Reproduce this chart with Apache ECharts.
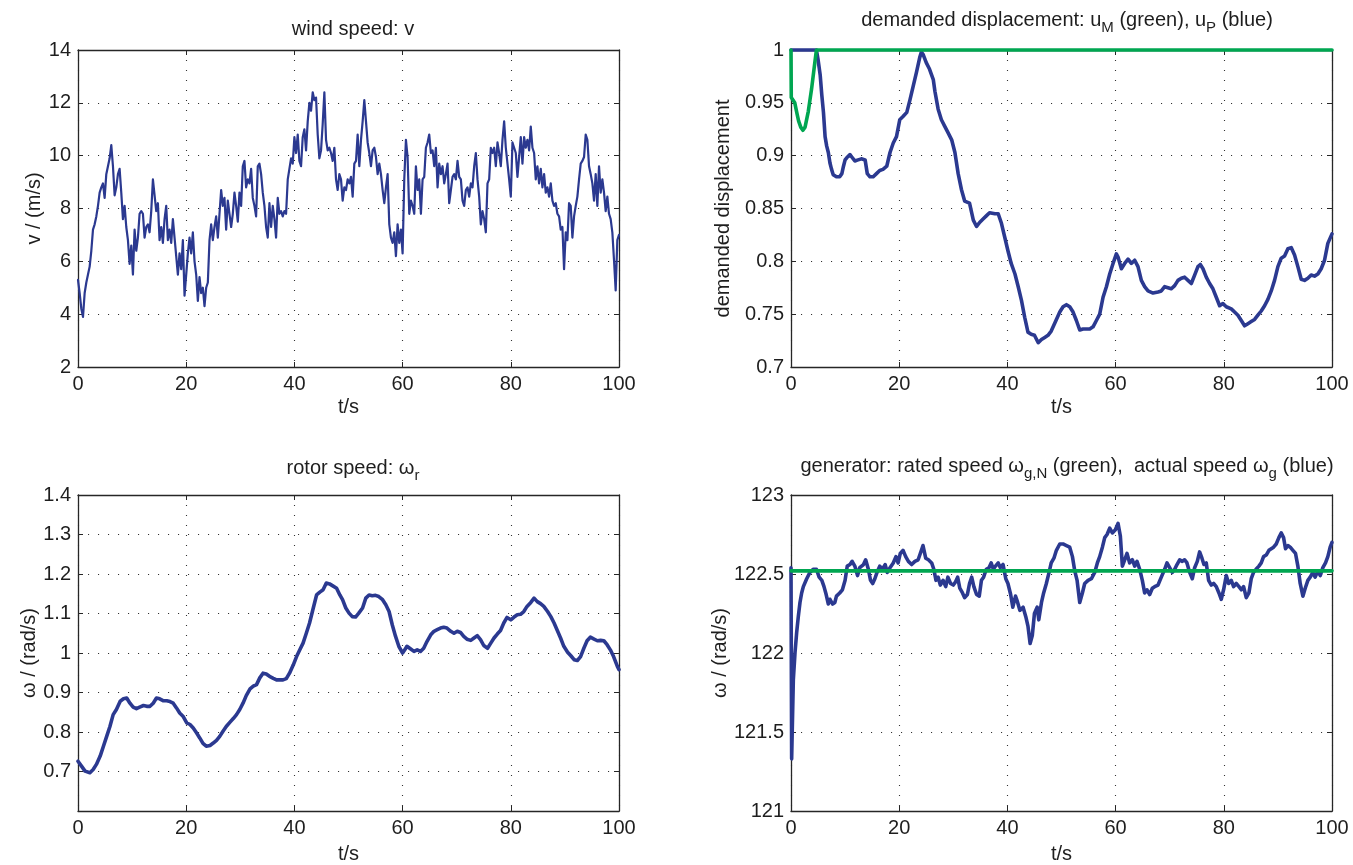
<!DOCTYPE html>
<html>
<head>
<meta charset="utf-8">
<script src="https://cdn.jsdelivr.net/npm/echarts@6.0.0/dist/echarts.min.js"></script>
<style>
  html, body { margin: 0; padding: 0; background: #ffffff; }
  #chart { width: 1353px; height: 865px; }
</style>
</head>
<body>
<div id="chart"></div>
<script>
// ---- wind speed v (m/s), sampled every WIND_DT seconds from t = 0 to 100 s ----
const WIND_DT = 100 / 325;
const windSpeed = [
  5.3, 4.8, 4.2, 3.9, 4.8, 5.2, 5.5, 5.8, 6.4, 7.2,
  7.4, 7.7, 8.1, 8.6, 8.8, 8.95, 8.4, 9.3, 9.6, 9.9,
  10.4, 9.6, 8.5, 8.8, 9.3, 9.5, 8.6, 7.6, 8.1, 7.3,
  6.8, 5.9, 6.6, 5.5, 7.2, 6.4, 6.9, 7.8, 7.9, 7.8,
  6.9, 7.3, 7.4, 7.1, 7.9, 9.1, 9.1, 7.9, 8.2, 6.8,
  7.3, 6.7, 7.6, 8.1, 6.8, 7.2, 6.7, 7.6, 6.9, 6.2,
  5.5, 6.3, 5.7, 6.8, 4.7, 5.5, 6.3, 6.9, 6.3, 7.1,
  6.0, 5.5, 4.5, 5.4, 4.8, 5.0, 4.3, 5.0, 5.2, 6.8,
  7.4, 6.8, 7.3, 7.7, 6.9, 7.8, 8.7, 8.1, 8.4, 7.2,
  8.3, 7.8, 7.3, 7.8, 8.6, 8.1, 7.5, 8.6, 8.1, 9.6,
  9.8, 8.8, 9.1, 8.95, 9.5, 8.4, 8.1, 7.7, 9.6, 9.7,
  9.3, 8.6, 8.1, 7.3, 6.9, 8.2, 7.3, 8.1, 7.6, 6.9,
  8.4, 7.8, 7.9, 7.7, 7.9, 7.8, 9.1, 9.5, 9.9, 9.7,
  10.7, 10.1, 10.8, 9.8, 9.6, 10.7, 11.0, 10.2, 11.3, 12.0,
  11.7, 12.4, 12.1, 12.2, 10.8, 9.9, 10.2, 11.2, 12.4, 10.6,
  10.2, 10.3, 10.1, 9.8, 10.3, 9.1, 8.7,
  9.3, 9.1, 8.3, 8.8, 8.7, 9.1, 8.95, 9.2, 8.45, 9.7,
  9.8, 10.8, 9.6, 10.6, 11.3, 12.1, 11.3, 10.5, 10.1, 9.6,
  10.2, 10.3, 9.95, 9.3, 9.7, 9.3, 8.7, 8.2, 8.8, 9.3,
  7.4, 6.9, 6.7, 7.1, 6.2, 7.4, 6.7, 7.2, 6.3, 9.1,
  10.6, 9.95, 7.8, 8.3, 8.1, 7.8, 9.6, 8.7, 9.1, 7.8,
  9.1, 9.2, 10.3, 10.5, 10.8, 10.1, 10.2, 9.6, 10.3, 8.8,
  9.7, 9.3, 9.6, 8.95, 9.3, 9.7, 8.2, 8.7, 9.2, 9.3,
  9.1, 9.8, 9.2, 9.1, 8.3, 8.1, 8.7, 8.8, 8.45, 8.95,
  8.8, 9.6, 10.1, 9.1, 8.45, 7.4, 7.9, 7.6, 7.1, 8.95,
  9.1, 10.3, 10.1, 10.3, 9.6, 10.5, 10.1, 9.6, 10.6, 11.3,
  10.3, 10.3, 9.1, 8.45, 10.5, 10.3, 10.1, 9.2, 9.95, 10.7,
  9.7, 10.7, 10.3, 10.6, 10.2, 11.1, 10.3, 10.1, 9.1, 9.6,
  8.95, 9.5, 8.8, 9.3, 8.6, 8.8, 8.45, 8.95, 8.3, 8.1,
  8.2, 7.8, 7.7, 7.2, 7.3, 5.7, 7.1, 6.8, 8.2, 8.1,
  6.9, 7.7, 8.1, 8.45, 9.1, 9.7, 9.8, 9.95, 10.8, 10.6,
  9.6, 9.3, 8.95, 8.3, 9.3, 8.1, 9.6, 8.6, 9.1, 8.6,
  7.9, 8.45, 7.8, 7.6, 7.1, 6.05, 4.9, 6.8, 7.0
];

// ---- demanded displacement u_P (blue) ----
const dispPTime = [
  0, 4.7, 5.0, 5.4, 5.7, 6.0, 6.3, 6.6, 6.9, 7.2,
  7.5, 7.8, 8.4, 9.0, 9.4, 9.7, 10.0, 10.3, 10.9, 11.2,
  11.8, 12.4, 13.0, 13.7, 14.1, 14.6, 15.2, 15.8, 16.4, 17.0,
  17.7, 18.3, 18.9, 19.5, 20.1, 20.7, 21.4, 22.0, 22.6, 23.2,
  23.8, 24.1, 24.4, 25.0, 25.6, 26.3, 26.6, 27.2, 27.8, 28.4,
  29.0, 29.7, 30.3, 30.9, 31.5, 32.1, 33.0, 33.7, 34.3, 34.9,
  35.5, 36.1, 36.7, 37.7, 38.3, 38.9, 39.5, 40.1, 40.7, 41.4,
  42.0, 42.6, 43.2, 43.8, 44.4, 45.0, 45.7, 46.3, 46.9, 47.5,
  48.1,
  49.06, 49.68, 50.29, 50.91, 51.52, 52.14, 52.75, 53.37, 53.99, 54.6,
  55.22, 55.83, 56.45, 57.06, 57.68, 58.3, 58.91, 59.53, 60.14, 60.45,
  61.07, 61.68, 62.3, 62.91, 63.53, 64.14, 64.76, 65.37, 65.99, 66.91,
  67.84, 68.45, 69.07, 69.68, 70.3, 70.92, 71.53, 72.15, 72.76, 73.38,
  73.99, 74.61, 75.22, 75.66, 76.15, 76.76, 77.38, 77.99, 78.61, 79.23,
  79.84, 80.46, 81.38, 81.99, 82.61, 83.23, 83.84, 84.46, 85.07, 85.69,
  86.3, 86.92, 87.54, 88.15, 88.77, 89.38, 90.0, 90.61, 91.23, 91.85,
  92.46, 93.08, 93.69, 94.31, 94.92, 95.54, 96.15, 96.77, 97.39, 98.0,
  98.62, 99.23, 100
];
const dispP = [
  1, 1, 0.991, 0.976, 0.957, 0.941, 0.918, 0.909, 0.903, 0.893,
  0.887, 0.882, 0.880, 0.880, 0.883, 0.890, 0.896, 0.898, 0.901, 0.899,
  0.895, 0.896, 0.897, 0.896, 0.883, 0.880, 0.880, 0.883, 0.886, 0.887,
  0.890, 0.903, 0.912, 0.918, 0.934, 0.937, 0.941, 0.953, 0.966, 0.979,
  0.993, 0.998, 0.996, 0.988, 0.982, 0.972, 0.961, 0.944, 0.934, 0.928,
  0.922, 0.915, 0.903, 0.883, 0.868, 0.857, 0.855, 0.839, 0.833, 0.837,
  0.840, 0.843, 0.846, 0.845, 0.845, 0.836, 0.823, 0.810, 0.798, 0.788,
  0.776, 0.763, 0.747, 0.733, 0.731, 0.730, 0.723, 0.726, 0.728, 0.730,
  0.734,
  0.745, 0.752, 0.757, 0.759, 0.757, 0.752, 0.744, 0.735, 0.736, 0.736,
  0.736, 0.738, 0.744, 0.750, 0.766, 0.776, 0.788, 0.798, 0.807, 0.804,
  0.793, 0.798, 0.802, 0.798, 0.801, 0.795, 0.782, 0.776, 0.772, 0.770,
  0.771, 0.772, 0.776, 0.775, 0.774, 0.777, 0.782, 0.784, 0.785, 0.782,
  0.779, 0.787, 0.795, 0.797, 0.793, 0.785, 0.779, 0.774, 0.766, 0.758,
  0.760, 0.757, 0.755, 0.752, 0.749, 0.744, 0.739, 0.741, 0.743, 0.745,
  0.749, 0.753, 0.758, 0.764, 0.772, 0.782, 0.795, 0.803, 0.805, 0.812,
  0.813, 0.806, 0.795, 0.783, 0.782, 0.784, 0.787, 0.786, 0.788, 0.793,
  0.801, 0.817, 0.826
];

// ---- demanded displacement u_M (green) ----
const dispMTime = [0, 0.05, 0.7, 1.1, 1.4, 1.8, 2.2, 2.6, 3.2, 3.8, 4.4, 4.7, 100];
const dispM = [1, 0.955, 0.950, 0.940, 0.933, 0.927, 0.924, 0.927, 0.942, 0.963, 0.988, 1, 1];

// ---- rotor speed omega_r (rad/s) ----
const rotorTime = [
  0, 0.68, 1.3, 2.2, 2.8, 3.4, 4.1, 4.7, 5.3, 5.9,
  6.5, 7.1, 7.8, 8.4, 9.0, 9.6, 10.2, 10.8, 11.4, 12.1,
  12.7, 13.3, 13.9, 14.5, 15.1, 15.8, 16.4, 17.0, 17.6, 18.2,
  18.8, 19.4, 20.1, 20.7, 21.3, 21.9, 22.5, 23.1, 23.7, 24.4,
  25.0, 25.6, 26.2, 26.8, 27.4, 28.1, 28.7, 29.3, 29.9, 30.5,
  31.1, 31.8, 32.4, 33.0, 33.6, 34.2, 34.8, 35.4, 36.1, 36.7,
  37.3, 37.9, 38.5, 39.1, 39.8, 40.4, 41.0, 41.6, 42.2, 42.8,
  43.4, 44.1, 44.7, 45.3, 45.9, 46.5, 47.1, 47.8, 48.4,
  48.9, 49.5, 50.1, 50.7, 51.3, 51.9, 52.6, 53.2, 53.8, 54.4,
  55.0, 55.6, 56.3, 56.9, 57.5, 58.1, 58.7, 59.3, 60.0, 60.4,
  60.8, 61.5, 62.1, 62.7, 63.3, 63.9, 64.5, 65.2, 65.8, 66.4,
  67.0, 67.6, 68.2, 68.9, 69.5, 70.1, 70.7, 71.3, 71.9, 72.6,
  73.2, 73.8, 74.4, 75.0, 75.7, 76.3, 76.9, 77.5, 78.1, 78.7,
  79.3, 80.0, 80.6, 81.2, 81.8, 82.4, 83.0, 83.7, 84.3, 84.9,
  85.5, 86.1, 86.8, 87.4, 88.0, 88.6, 89.2, 89.8, 90.5, 91.1,
  91.7, 92.3, 92.9, 93.5, 94.1, 94.7, 95.4, 96.0, 96.6, 97.2,
  97.8, 98.4, 99.0, 99.7, 100
];
const rotorSpeed = [
  0.726, 0.713, 0.701, 0.697, 0.705, 0.718, 0.739, 0.764, 0.789, 0.814,
  0.844, 0.857, 0.878, 0.884, 0.886, 0.873, 0.863, 0.859, 0.863, 0.867,
  0.865, 0.865, 0.873, 0.886, 0.884, 0.879, 0.879, 0.877, 0.873, 0.861,
  0.848, 0.840, 0.823, 0.819, 0.810, 0.798, 0.785, 0.771, 0.764, 0.766,
  0.772, 0.779, 0.789, 0.802, 0.814, 0.825, 0.834, 0.844, 0.857, 0.873,
  0.892, 0.909, 0.916, 0.920, 0.937, 0.949, 0.947, 0.941, 0.936, 0.932,
  0.932, 0.932, 0.935, 0.949, 0.970, 0.991, 1.008, 1.025, 1.050, 1.076,
  1.109, 1.147, 1.154, 1.160, 1.177, 1.175, 1.170, 1.164, 1.147,
  1.135, 1.114, 1.101, 1.092, 1.091, 1.101, 1.114, 1.139, 1.147, 1.145,
  1.146, 1.143, 1.135, 1.122, 1.105, 1.071, 1.042, 1.017, 1.000, 1.008,
  1.017, 1.010, 1.004, 1.008, 1.004, 1.012, 1.029, 1.046, 1.055, 1.059,
  1.063, 1.065, 1.063, 1.055, 1.050, 1.055, 1.052, 1.042, 1.035, 1.032,
  1.038, 1.044, 1.034, 1.019, 1.012, 1.025, 1.038, 1.048, 1.057, 1.076,
  1.090, 1.084, 1.091, 1.097, 1.098, 1.105, 1.118, 1.128, 1.139, 1.130,
  1.125, 1.118, 1.105, 1.092, 1.076, 1.057, 1.038, 1.017, 1.002, 0.993,
  0.983, 0.981, 0.991, 1.012, 1.031, 1.040, 1.035, 1.031, 1.032, 1.031,
  1.021, 1.008, 0.991, 0.966, 0.958
];

// ---- generator speed omega_g (blue) and rated speed omega_g,N (green) ----
const genTime = [
  0, 0.12, 0.43, 0.74, 1.05, 1.35, 1.66, 1.97, 2.28, 2.9,
  3.5, 4.1, 4.7, 5.2, 5.7, 6.1, 6.5, 6.9, 7.2, 7.7,
  8.1, 8.4, 9.0, 9.5, 10.0, 10.4, 10.9, 11.3, 11.8, 12.3,
  12.7, 13.4, 13.8, 14.3, 14.7, 15.1, 15.5, 15.9, 16.4, 16.9,
  17.4, 17.8, 18.3, 18.9, 19.4, 19.8, 20.2, 20.7, 21.2, 21.7,
  22.3, 22.9, 23.5, 23.9, 24.4, 24.9, 25.4, 26.0, 26.4, 26.8,
  27.2, 27.6, 28.1, 28.6, 29.0, 29.5, 30.0, 30.4, 30.8, 31.2,
  31.7, 32.1, 32.6, 33.0, 33.4, 33.8, 34.3, 34.8, 35.2, 35.6,
  36.1, 36.6, 37.0, 37.4, 37.8, 38.3, 38.7, 39.2, 39.7, 40.1,
  40.6, 41.0, 41.5, 41.8, 42.3, 42.9, 43.4, 43.8, 44.2, 44.6,
  45.0, 45.5, 45.8, 46.3, 46.7, 47.2, 47.7, 48.1, 48.6,
  49.06, 49.68, 50.29, 50.91, 51.52, 52.02, 52.45, 52.88, 53.37, 53.86,
  54.29, 54.91, 55.53, 56.14, 56.63, 57.06, 57.56, 57.99, 58.42, 58.91,
  59.4, 59.96, 60.45, 60.88, 61.25, 61.68, 62.11, 62.6, 63.1, 63.53,
  63.96, 64.45, 64.94, 65.37, 65.8, 66.3, 66.79, 67.22, 67.84, 68.45,
  69.07, 69.5, 69.99, 70.48, 70.92, 71.35, 71.84, 72.33, 72.76, 73.19,
  73.69, 74.18, 74.61, 75.1, 75.53, 75.96, 76.33, 76.76, 77.19, 77.69,
  78.12, 78.61, 79.1, 79.53, 79.96, 80.46, 80.89, 81.38, 81.81, 82.3,
  82.8, 83.23, 83.66, 84.15, 84.64, 85.07, 85.5, 85.96, 86.49, 86.92,
  87.35, 87.84, 88.34, 88.77, 89.2, 89.69, 90.18, 90.61, 91.05, 91.41,
  91.85, 92.28, 92.77, 93.26, 93.69, 94.12, 94.62, 95.05, 95.54, 95.97,
  96.46, 96.89, 97.39, 97.82, 98.31, 98.8, 99.23, 99.66, 100
];
const genSpeed = [
  122.54, 121.33, 121.83, 122.0, 122.13, 122.23, 122.32, 122.38, 122.42, 122.47,
  122.51, 122.53, 122.53, 122.48, 122.46, 122.42, 122.37, 122.31, 122.34, 122.31,
  122.32, 122.36, 122.38, 122.40, 122.46, 122.55, 122.56, 122.58, 122.55, 122.49,
  122.54, 122.56, 122.59, 122.53, 122.46, 122.44, 122.47, 122.51, 122.55, 122.53,
  122.56, 122.51, 122.54, 122.57, 122.61, 122.57, 122.63, 122.65, 122.61, 122.58,
  122.56, 122.58, 122.59, 122.63, 122.68, 122.60, 122.59, 122.57, 122.53, 122.46,
  122.48, 122.43, 122.46, 122.42, 122.48, 122.44, 122.43, 122.45, 122.48, 122.41,
  122.38, 122.35, 122.37, 122.44, 122.48, 122.42, 122.37, 122.36, 122.46, 122.48,
  122.53, 122.54, 122.57, 122.53, 122.55, 122.57, 122.54, 122.56, 122.47, 122.44,
  122.37, 122.29, 122.36, 122.33, 122.27, 122.29, 122.23, 122.17, 122.06, 122.11,
  122.25, 122.29, 122.21, 122.32, 122.38, 122.44, 122.51, 122.57, 122.60,
  122.65, 122.69, 122.69, 122.68, 122.67, 122.61, 122.52, 122.46, 122.32, 122.38,
  122.44, 122.46, 122.47, 122.51, 122.57, 122.61, 122.67, 122.73, 122.75, 122.79,
  122.76, 122.78, 122.82, 122.74, 122.55, 122.59, 122.63, 122.57, 122.59, 122.55,
  122.58, 122.53, 122.46, 122.38, 122.40, 122.37, 122.41, 122.42, 122.43, 122.48,
  122.53, 122.57, 122.54, 122.51, 122.53, 122.56, 122.59, 122.58, 122.59, 122.57,
  122.51, 122.47, 122.54, 122.58, 122.64, 122.60, 122.56, 122.57, 122.46, 122.43,
  122.44, 122.42, 122.38, 122.34, 122.40, 122.49, 122.44, 122.46, 122.42, 122.44,
  122.42, 122.40, 122.42, 122.35, 122.38, 122.47, 122.51, 122.53, 122.55, 122.57,
  122.61, 122.62, 122.65, 122.66, 122.67, 122.69, 122.73, 122.76, 122.73, 122.66,
  122.68, 122.67, 122.65, 122.63, 122.55, 122.44, 122.36, 122.41, 122.46, 122.48,
  122.51, 122.48, 122.52, 122.49, 122.54, 122.57, 122.61, 122.67, 122.70
];
const ratedTime = [0, 100];
const ratedSpeed = [122.52, 122.52];

// ---- time axis ticks ----
const timeTicks = { min: 0, max: 100, step: 20 };

// ---- styling ----
const FONT = '"Liberation Sans", Arial, Helvetica, sans-serif';
const FS = 20;
const TEXT_COLOR = '#1e1e1e';
const AXIS_COLOR = '#262626';
const GRID_DOT = '#333333';
const BLUE = '#2b3990';
const GREEN = '#00a651';

const panels = [
  { rect: { left: 78,  top: 50,  width: 541, height: 317 }, yMin: 2,   yMax: 14,  yStep: 2,    yName: 'v / (m/s)',             yGap: 24, xGap: 30 },
  { rect: { left: 791, top: 50,  width: 541, height: 317 }, yMin: 0.7, yMax: 1,   yStep: 0.05, yName: 'demanded displacement', yGap: 58, xGap: 30 },
  { rect: { left: 78,  top: 495, width: 541, height: 317 }, yMin: 0.6, yMax: 1.4, yStep: 0.1,  yName: 'ω / (rad/s)',           yGap: 39, xGap: 33, hideMin: true },
  { rect: { left: 791, top: 495, width: 541, height: 317 }, yMin: 121, yMax: 123, yStep: 0.5,  yName: 'ω / (rad/s)',           yGap: 58, xGap: 33 }
];

const zip = (t, v) => t.map((x, i) => [x, v[i]]);

const lineStyleAxis = { color: AXIS_COLOR, width: 1.3 };
const textBase = { fontSize: FS, color: TEXT_COLOR, fontFamily: FONT };
const tickStyle = { show: true, inside: true, length: 5, lineStyle: { color: AXIS_COLOR, width: 1 } };
const dotted = { show: true, lineStyle: { color: GRID_DOT, width: 1.1, type: [1.1, 8.9] } };

const xAxes = [];
const yAxes = [];
panels.forEach((p, gi) => {
  // bottom axis with labels and dotted grid
  xAxes.push({
    type: 'value', gridIndex: gi, position: 'bottom',
    min: timeTicks.min, max: timeTicks.max, interval: timeTicks.step,
    name: 't/s', nameLocation: 'middle', nameGap: p.xGap, nameTextStyle: textBase,
    axisLine: { show: true, onZero: false, lineStyle: lineStyleAxis },
    axisTick: tickStyle,
    axisLabel: Object.assign({ margin: 7, showMinLabel: true, showMaxLabel: true }, textBase),
    splitLine: dotted
  });
  // top edge of the box with mirrored ticks
  xAxes.push({
    type: 'value', gridIndex: gi, position: 'top',
    min: timeTicks.min, max: timeTicks.max, interval: timeTicks.step,
    axisLine: { show: true, onZero: false, lineStyle: lineStyleAxis },
    axisTick: tickStyle,
    axisLabel: { show: false }, splitLine: { show: false }
  });
  yAxes.push({
    type: 'value', gridIndex: gi, position: 'left',
    min: p.yMin, max: p.yMax, interval: p.yStep,
    name: p.yName, nameLocation: 'middle', nameGap: p.yGap, nameTextStyle: textBase,
    axisLine: { show: true, onZero: false, lineStyle: lineStyleAxis },
    axisTick: tickStyle,
    axisLabel: Object.assign({
      margin: 7, showMinLabel: true, showMaxLabel: true,
      formatter: (v) => (p.hideMin && Math.abs(v - p.yMin) < 1e-9) ? '' : String(+v.toFixed(3))
    }, textBase),
    splitLine: dotted
  });
  // right edge of the box with mirrored ticks
  yAxes.push({
    type: 'value', gridIndex: gi, position: 'right',
    min: p.yMin, max: p.yMax, interval: p.yStep,
    axisLine: { show: true, onZero: false, lineStyle: lineStyleAxis },
    axisTick: tickStyle,
    axisLabel: { show: false }, splitLine: { show: false }
  });
});

const line = (gi, data, color, width) => ({
  type: 'line', xAxisIndex: gi * 2, yAxisIndex: gi * 2, data: data,
  showSymbol: false, symbol: 'none', clip: false, animation: false,
  lineStyle: { color: color, width: width, join: 'round', cap: 'round' },
  emphasis: { disabled: true }
});

const titleRich = {
  n: { fontSize: FS, color: TEXT_COLOR, fontFamily: FONT },
  s: { fontSize: 15, color: TEXT_COLOR, fontFamily: FONT, padding: [14, 0, 0, 0] }
};
const title = (text, x, y) => ({
  text: text, left: x, top: y, textAlign: 'center',
  textStyle: { fontSize: FS, fontWeight: 'normal', color: TEXT_COLOR, fontFamily: FONT, rich: titleRich }
});

const chart = echarts.init(document.getElementById('chart'), null, { renderer: 'canvas' });
chart.setOption({
  backgroundColor: '#ffffff',
  animation: false,
  title: [
    title('{n|wind speed: v}', 348, 14),
    title('{n|demanded displacement: u}{s|M}{n| (green), u}{s|P}{n| (blue)}', 1062, 1),
    title('{n|rotor speed: ω}{s|r}', 348, 449),
    title('{n|generator: rated speed ω}{s|g,N}{n| (green),  actual speed ω}{s|g}{n| (blue)}', 1062, 447)
  ],
  grid: panels.map(p => Object.assign({ containLabel: false }, p.rect)),
  xAxis: xAxes,
  yAxis: yAxes,
  series: [
    line(0, windSpeed.map((v, i) => [i * WIND_DT, v]), BLUE, 2.2),
    line(1, zip(dispPTime, dispP), BLUE, 3.6),
    line(1, zip(dispMTime, dispM), GREEN, 3.6),
    line(2, zip(rotorTime, rotorSpeed), BLUE, 3.6),
    line(3, zip(genTime, genSpeed), BLUE, 3.6),
    line(3, zip(ratedTime, ratedSpeed), GREEN, 3.6)
  ]
});
</script>
</body>
</html>
